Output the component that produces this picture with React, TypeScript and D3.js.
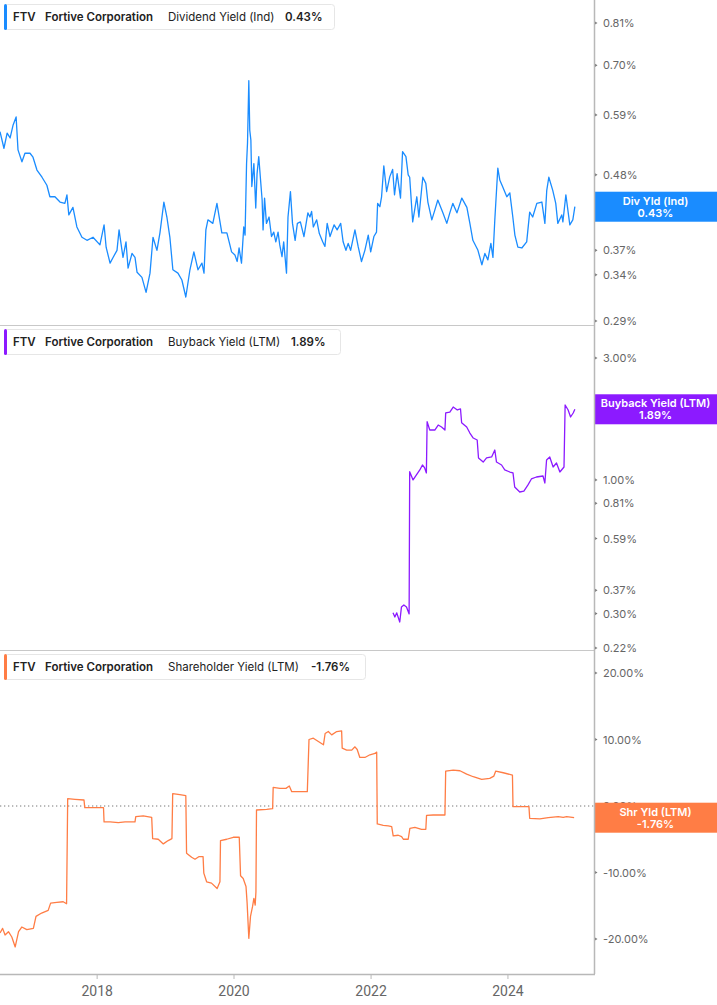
import React from 'react'
import * as d3 from 'd3'

const width = 717
const height = 1005
const plotRight = 594
const axisY = 974

const parse = d3.timeParse('%Y-%m-%d')

// Dividend Yield (Ind), %
const divDates = [
  '2016-08-01','2016-08-22','2016-09-08','2016-09-24','2016-10-10','2016-10-26','2016-11-05','2016-11-26','2016-12-12',
  '2017-01-08','2017-01-24','2017-02-14','2017-03-13','2017-04-08','2017-04-24','2017-05-21','2017-06-17','2017-07-13',
  '2017-07-24','2017-08-03','2017-08-25','2017-09-15','2017-10-12','2017-11-08','2017-12-10',
  '2018-01-16','2018-02-07','2018-02-18','2018-03-11','2018-03-27','2018-04-17','2018-04-28','2018-05-19','2018-06-04',
  '2018-06-15','2018-07-06','2018-07-22','2018-08-02','2018-08-28','2018-09-19','2018-10-10','2018-10-26','2018-11-16',
  '2018-12-02','2018-12-23',
  '2019-01-08','2019-01-24','2019-02-09','2019-03-08','2019-03-29','2019-04-19','2019-05-11','2019-06-01','2019-06-23',
  '2019-07-14','2019-07-25','2019-08-04','2019-08-15','2019-09-10','2019-10-02','2019-10-28','2019-11-24',
  '2019-12-10','2019-12-19','2020-01-06','2020-01-18','2020-01-28','2020-02-10','2020-02-22','2020-02-29','2020-03-08',
  '2020-03-13','2020-03-20','2020-03-25','2020-03-31','2020-04-05','2020-04-16','2020-04-26','2020-05-03','2020-05-12',
  '2020-05-21','2020-05-30','2020-06-04','2020-06-12','2020-06-22','2020-07-06','2020-07-19','2020-07-31','2020-08-11',
  '2020-08-23','2020-09-01','2020-09-13','2020-09-22','2020-10-07','2020-10-15','2020-10-28','2020-11-08','2020-11-22',
  '2020-12-04','2020-12-20',
  '2021-01-08','2021-01-29','2021-02-09','2021-02-18','2021-02-27','2021-03-17','2021-03-31','2021-04-18','2021-04-30',
  '2021-05-12','2021-05-27','2021-06-18','2021-07-04','2021-07-23','2021-08-05','2021-08-20','2021-09-01','2021-09-14',
  '2021-10-07','2021-10-24','2021-11-11','2021-11-29','2021-12-17','2021-12-30',
  '2022-01-16','2022-01-30','2022-02-05','2022-02-17','2022-02-26','2022-03-10','2022-03-25','2022-04-11','2022-04-26',
  '2022-05-06','2022-05-20','2022-06-07','2022-06-18','2022-07-06','2022-07-18',
  '2022-07-26','2022-08-11','2022-09-02','2022-09-13','2022-10-04',
  '2022-10-20','2022-10-31','2022-11-21','2022-12-07','2022-12-23',
  '2023-01-19','2023-02-09','2023-02-25','2023-03-13','2023-04-04','2023-04-30','2023-05-27','2023-06-12','2023-06-28',
  '2023-07-25','2023-08-15','2023-08-31','2023-09-16','2023-10-02','2023-10-13','2023-10-23','2023-11-08','2023-11-19',
  '2023-12-05','2023-12-26',
  '2024-01-11','2024-01-27','2024-02-07','2024-02-23','2024-03-15','2024-04-10','2024-04-26','2024-05-12','2024-06-03',
  '2024-06-30','2024-07-16','2024-07-26','2024-08-06','2024-08-27','2024-09-12','2024-09-23','2024-10-14','2024-10-20',
  '2024-11-05','2024-11-26','2024-12-12','2024-12-23',
]
const divValues = [
  0.557,0.526,0.554,0.545,0.570,0.586,0.523,0.502,0.517,
  0.517,0.510,0.488,0.476,0.463,0.445,0.445,0.437,0.435,
  0.448,0.418,0.429,0.401,0.387,0.383,0.387,
  0.377,0.404,0.374,0.354,0.361,0.370,0.397,0.361,0.381,
  0.348,0.366,0.361,0.343,0.337,0.320,0.342,0.387,0.370,
  0.393,0.437,
  0.415,0.387,0.346,0.342,0.334,0.315,0.346,0.368,0.346,
  0.354,0.342,0.397,0.411,0.406,0.435,0.393,0.393,
  0.377,0.368,0.364,0.356,0.373,0.354,0.401,0.390,0.499,
  0.535,0.664,0.560,0.541,0.461,0.499,0.428,0.482,0.511,
  0.474,0.440,0.397,0.443,0.406,0.415,0.388,0.394,0.381,
  0.394,0.377,0.362,0.381,0.342,0.415,0.453,0.406,0.383,
  0.406,0.408,
  0.388,0.421,0.415,0.423,0.401,0.411,0.392,0.381,0.375,
  0.406,0.388,0.404,0.397,0.406,0.381,0.370,0.379,0.370,
  0.397,0.375,0.356,0.370,0.390,0.368,
  0.388,0.394,0.435,0.430,0.445,0.495,0.453,0.477,0.489,
  0.448,0.482,0.443,0.520,0.511,0.480,
  0.476,0.408,0.445,0.415,0.476,
  0.466,0.437,0.411,0.425,0.440,
  0.421,0.406,0.421,0.435,0.421,0.443,0.429,0.406,0.383,
  0.370,0.352,0.366,0.358,0.379,0.361,0.411,0.491,0.471,
  0.460,0.445,
  0.451,0.415,0.390,0.374,0.373,0.381,0.422,0.415,0.435,
  0.437,0.406,0.455,0.476,0.455,0.435,0.406,0.418,0.408,
  0.448,0.404,0.411,0.430,
]

// Buyback Yield (LTM), %
const buybackDates = [
  '2022-04-28','2022-05-08','2022-05-18','2022-06-03','2022-06-12','2022-06-25','2022-07-09','2022-07-23','2022-07-26',
  '2022-08-13','2022-08-31','2022-09-18','2022-10-02','2022-10-14','2022-10-23','2022-10-27','2022-11-10','2022-12-07',
  '2022-12-25','2023-01-12','2023-01-30','2023-02-03','2023-02-25','2023-03-15','2023-04-06','2023-04-23','2023-04-29',
  '2023-05-26','2023-06-12','2023-06-30','2023-07-21','2023-07-28','2023-08-22','2023-09-09','2023-10-06','2023-10-23',
  '2023-11-01','2023-11-28','2023-12-15','2024-01-11','2024-01-28','2024-02-06','2024-03-04','2024-03-26','2024-04-17',
  '2024-05-05','2024-06-01','2024-07-06','2024-07-16','2024-07-25','2024-08-11','2024-08-29','2024-09-16','2024-10-04',
  '2024-10-26','2024-11-01','2024-11-17','2024-11-30','2024-12-14','2024-12-23',
]
const buybackValues = [
  0.302,0.291,0.302,0.278,0.318,0.324,0.318,0.299,1.077,
  1.000,1.046,1.094,1.144,1.114,1.065,1.690,1.568,1.568,
  1.640,1.611,1.568,1.828,1.844,1.929,1.878,1.895,1.675,
  1.611,1.526,1.459,1.433,1.219,1.175,1.219,1.230,1.310,
  1.175,1.144,1.094,1.074,1.065,0.938,0.897,0.905,0.956,
  1.009,1.027,1.036,0.973,1.197,1.230,1.124,1.165,1.074,
  1.124,1.964,1.878,1.763,1.828,1.890,
]

// Shareholder Yield (LTM), %
const shrDates = [
  '2016-08-01','2016-08-15','2016-08-28','2016-09-15','2016-10-03','2016-10-21','2016-11-08','2016-11-25','2016-12-22',
  '2017-01-26','2017-02-09','2017-03-11','2017-04-15','2017-04-28','2017-05-31','2017-07-04','2017-07-22','2017-07-28',
  '2017-09-05','2017-10-23','2017-10-27','2018-02-04','2018-02-07','2018-03-11','2018-04-24','2018-05-30','2018-07-22',
  '2018-07-26','2018-09-04','2018-10-19','2018-10-24','2018-11-23','2018-12-20','2019-01-15','2019-02-04','2019-02-08',
  '2019-03-18','2019-04-19','2019-04-23','2019-05-20','2019-06-07','2019-06-29','2019-07-20','2019-07-24','2019-08-08',
  '2019-09-03','2019-10-03','2019-10-18','2019-10-21','2019-11-23','2019-12-28','2020-01-29','2020-02-05','2020-02-19',
  '2020-03-05','2020-03-11','2020-03-20','2020-03-29','2020-04-09','2020-04-16','2020-04-23','2020-04-27','2020-04-30',
  '2020-06-23','2020-07-25','2020-07-28','2020-09-02','2020-10-04','2020-10-22','2020-11-04','2020-12-18','2021-01-26',
  '2021-02-04','2021-02-27','2021-03-26','2021-04-22','2021-05-01','2021-05-18','2021-06-05','2021-07-02','2021-07-28',
  '2021-07-31','2021-08-24','2021-09-20','2021-10-07','2021-10-19','2021-11-02','2021-11-29','2021-12-26','2022-01-22',
  '2022-01-31','2022-02-03','2022-03-07','2022-04-03','2022-04-21','2022-04-29','2022-05-26','2022-06-13','2022-06-22',
  '2022-07-18','2022-07-27','2022-08-23','2022-09-27','2022-10-20','2022-10-24','2022-11-28','2023-01-30','2023-02-03',
  '2023-03-15','2023-04-20','2023-05-26','2023-06-30','2023-08-14','2023-09-26','2023-10-18','2023-10-28','2023-12-07',
  '2024-01-25','2024-01-28','2024-04-22','2024-04-26','2024-06-19','2024-08-03','2024-09-25','2024-10-22','2024-11-09',
  '2024-12-19',
]
const shrValues = [
  -19.1,-18.4,-19.4,-18.9,-19.7,-21.2,-18.9,-18.2,-18.6,
  -18.4,-16.6,-16.1,-15.7,-14.6,-14.5,-14.4,-14.7,1.1,
  1.0,0.9,-0.25,-0.25,-2.4,-2.4,-2.5,-2.4,-2.4,
  -1.6,-1.5,-1.7,-4.9,-5.0,-5.7,-5.2,-4.9,1.85,
  1.7,1.55,-7.1,-7.7,-8.0,-7.6,-7.6,-10.1,-11.4,
  -11.6,-12.4,-11.4,-5.2,-5.0,-4.7,-4.7,-10.5,-10.9,
  -12.1,-14.6,-19.9,-16.6,-15.1,-13.9,-14.9,-12.9,-0.6,
  -0.5,-0.4,2.8,2.65,2.65,3.0,2.15,2.15,2.15,
  10.0,10.2,9.7,9.2,10.9,11.2,10.7,11.2,11.3,
  8.7,8.4,8.4,8.9,8.5,7.3,7.3,7.7,7.9,
  8.1,-2.7,-2.9,-3.0,-3.1,-4.5,-4.4,-4.6,-5.0,
  -5.0,-3.35,-3.2,-3.5,-3.5,-1.4,-1.35,-1.35,5.25,
  5.4,5.3,4.8,4.4,4.0,4.15,4.5,5.25,5.0,
  4.65,-0.1,-0.1,-1.85,-1.95,-1.75,-1.6,-1.7,-1.6,
  -1.76,
]

const divTicks = [0.81, 0.70, 0.59, 0.48, 0.37, 0.34, 0.29]
const buybackTicks = [3.0, 1.0, 0.81, 0.59, 0.37, 0.30, 0.22]
const shrTicks = [20, 10, 0, -10, -20]
const yearTicks = [2018, 2020, 2022, 2024]

const x = d3.scaleTime()
  .domain([parse('2016-08-01'), parse('2025-04-04')])
  .range([0, plotRight])

const panels = [
  {
    top: 0, color: '#1a8cff', metric: 'Dividend Yield (Ind)', value: '0.43%', last: 0.43,
    tag: 'Div Yld (Ind)', boxW: 330, valueX: 281,
    y: d3.scaleLog().domain([0.29, 0.81]).range([321, 23]),
    ticks: divTicks, dates: divDates, values: divValues,
  },
  {
    top: 325, color: '#8c1aff', metric: 'Buyback Yield (LTM)', value: '1.89%', last: 1.89,
    tag: 'Buyback Yield (LTM)', boxW: 336, valueX: 287,
    y: d3.scaleLog().domain([0.22, 3.0]).range([648, 358]),
    ticks: buybackTicks, dates: buybackDates, values: buybackValues,
  },
  {
    top: 650, color: '#ff7d45', metric: 'Shareholder Yield (LTM)', value: '-1.76%', last: -1.76,
    tag: 'Shr Yld (LTM)', boxW: 361, valueX: 307,
    y: d3.scaleLinear().domain([-20, 20]).range([939, 673]),
    ticks: shrTicks, dates: shrDates, values: shrValues,
  },
]

const font = 'Inter, Roboto, sans-serif'
const fmt = (v) => v.toFixed(2) + '%'

function Panel({p}) {
  const pts = p.dates.map((d, i) => [x(parse(d)), p.y(p.values[i])])
  const path = d3.line()(pts)
  const ly = p.y(p.last)
  return (
    <g>
      {p.top > 0 && <line x1={0} x2={plotRight} y1={p.top + 0.5} y2={p.top + 0.5} stroke="#c8c8c8" />}
      {p.metric.startsWith('Shareholder') && (
        <line x1={0} x2={plotRight} y1={p.y(0)} y2={p.y(0)} stroke="#777" strokeWidth={1}
          strokeDasharray="1.3 2.7" />
      )}
      <path d={path} fill="none" stroke={p.color} strokeWidth={1.3} strokeLinejoin="round" />
      {p.ticks.map((t) => (
        <g key={t} transform={`translate(${plotRight},${p.y(t)})`}>
          <path d="M1,-1.6L3.5,0L1,1.6Z" fill="#777" />
          <text x={9} y={4} fontSize={11} fill="#666" fontFamily={font}>{fmt(t)}</text>
        </g>
      ))}
      <g transform={`translate(${plotRight},${ly})`}>
        <rect x={0} y={-15} width={width - plotRight} height={30} fill={p.color} />
        <text x={61.5} y={-2} textAnchor="middle" fontSize={11} fontWeight={600} fill="#fff" fontFamily={font}>{p.tag}</text>
        <text x={61.5} y={10} textAnchor="middle" fontSize={11} fontWeight={600} fill="#fff" fontFamily={font}>{p.value}</text>
      </g>
      <g transform={`translate(4,${p.top + 4})`}>
        <rect x={0.5} y={0.5} width={p.boxW} height={25} rx={3} fill="#fff" stroke="#e6e6e6" />
        <rect x={0} y={0} width={3} height={26} rx={1.5} fill={p.color} />
        <text y={17} fontSize={11.5} fill="#222" fontFamily={font}>
          <tspan x={9} fontWeight={600}>FTV</tspan>
          <tspan x={41} fontWeight={600}>Fortive Corporation</tspan>
          <tspan x={164} fontWeight={400}>{p.metric}</tspan>
          <tspan x={p.valueX} fontWeight={600}>{p.value}</tspan>
        </text>
      </g>
    </g>
  )
}

export default function App() {
  return (
    <svg width={width} height={height} style={{position: 'absolute', left: 0, top: 0, background: '#fff'}}>
      <rect width={width} height={height} fill="#fff" />
      {panels.map((p) => <Panel key={p.metric} p={p} />)}
      <line x1={plotRight + 0.5} x2={plotRight + 0.5} y1={0} y2={axisY} stroke="#b8b8b8" strokeWidth={1.5} />
      <line x1={0} x2={plotRight + 1} y1={axisY + 0.5} y2={axisY + 0.5} stroke="#b8b8b8" strokeWidth={1.5} />
      {yearTicks.map((yr) => {
        const px = x(new Date(yr, 0, 1))
        return (
          <g key={yr} transform={`translate(${px},${axisY})`}>
            <line y1={0} y2={5} stroke="#b8b8b8" />
            <text y={22} textAnchor="middle" fontSize={14} fill="#666" fontFamily="Roboto, sans-serif">{yr}</text>
          </g>
        )
      })}
    </svg>
  )
}
